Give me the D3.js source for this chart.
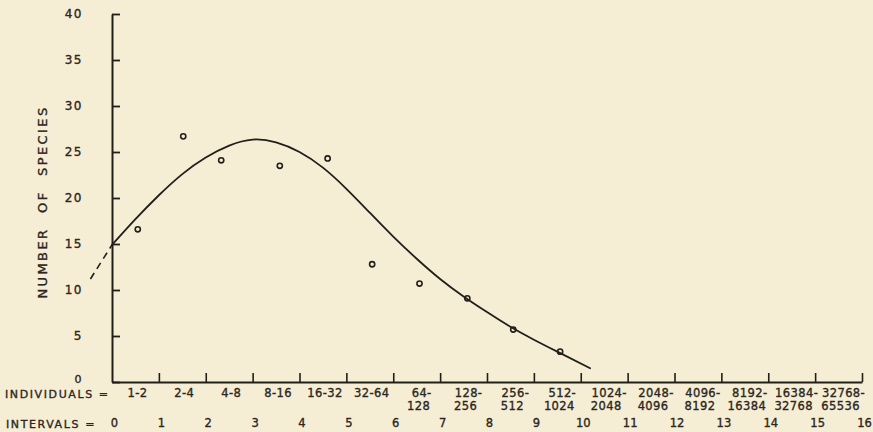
<!DOCTYPE html>
<html>
<head>
<meta charset="utf-8">
<script src="https://cdn.jsdelivr.net/npm/d3@7"></script>
<style>
    html, body { margin: 0; padding: 0; background: #f6eed4; }
    svg { display: block; }
    text { font-family: "DejaVu Sans", sans-serif; fill: #2a2622; stroke: #2a2622; stroke-width: 0.35px; }
</style>
</head>
<body>
<svg width="873" height="432"></svg>
<script>
// observed points: octave position (interval) and number of species
var pointIntervals = [0.55, 1.52, 2.33, 3.58, 4.6, 5.55, 6.56, 7.58, 8.56, 9.56];
var pointSpecies = [16.6, 26.7, 24.1, 23.5, 24.3, 12.8, 10.7, 9.1, 5.7, 3.3];

// fitted curve
var curveIntervals = [0, 0.5, 1, 1.5, 2, 2.5, 3, 3.5, 4, 4.5, 5, 5.5, 6, 6.5, 7, 7.5, 8, 8.5, 9, 9.5, 10.2];
var curveSpecies = [14.9, 17.7, 20.3, 22.6, 24.4, 25.7, 26.35, 26.05, 25.0, 23.3, 21.0, 18.4, 15.8, 13.4, 11.2, 9.3, 7.6, 6.0, 4.6, 3.3, 1.5];

// dashed extension left of the axis
var dashIntervals = [-0.46, 0];
var dashSpecies = [11.2, 14.9];

var yTicks = [0, 5, 10, 15, 20, 25, 30, 35, 40];
var intervalTicks = d3.range(0, 17);
var individualLabels = [
    ["1-2"], ["2-4"], ["4-8"], ["8-16"], ["16-32"], ["32-64"],
    ["64-", "128"], ["128-", "256"], ["256-", "512"], ["512-", "1024"],
    ["1024-", "2048"], ["2048-", "4096"], ["4096-", "8192"],
    ["8192-", "16384"], ["16384-", "32768"], ["32768-", "65536"]
];

var ink = "#221e1a";
var svg = d3.select("svg");

var x = d3.scaleLinear().domain([0, 16]).range([112, 862]);
var y = d3.scaleLinear().domain([0, 40]).range([382, 14]);

// y axis, ticks pointing inward
var yAxis = svg.append("g")
    .attr("transform", "translate(" + x(0) + ",0)")
    .call(d3.axisLeft(y).tickValues(yTicks).tickSizeInner(-8).tickSizeOuter(0).tickPadding(29));
yAxis.select(".domain").attr("stroke", ink).attr("stroke-width", 2);
yAxis.selectAll(".tick line").attr("stroke", ink).attr("stroke-width", 1.8);
yAxis.selectAll(".tick text")
    .style("font-size", "12px")
    .style("letter-spacing", "1.5px");
// the zero sits just above the INDIVIDUALS row
yAxis.selectAll(".tick text")
    .filter(function (d) { return d === 0; })
    .attr("dy", "0.05em")
    .style("font-size", "11px");

// x axis, ticks pointing up, interval numbers underneath
var xAxis = svg.append("g")
    .attr("transform", "translate(0," + y(0) + ")")
    .call(d3.axisBottom(x).tickValues(intervalTicks).tickSizeInner(-9).tickSizeOuter(0).tickPadding(37)
        .tickFormat(d3.format("d")));
xAxis.select(".domain").attr("stroke", ink).attr("stroke-width", 2);
xAxis.selectAll(".tick line").attr("stroke", ink).attr("stroke-width", 1.6)
    .filter(function (d) { return d === 0; }).remove();
xAxis.selectAll(".tick text")
    .style("font-size", "11.5px")
    .attr("dx", 2);

// individuals per octave
var ind = svg.append("g")
    .selectAll("text")
    .data(individualLabels)
    .enter()
    .append("text")
    .attr("text-anchor", "middle")
    .style("font-size", "11.5px")
    .style("letter-spacing", "0.4px");
ind.each(function (lines, i) {
    var t = d3.select(this);
    lines.forEach(function (s, k) {
        var dash = s.slice(-1) === "-" && k === 0 && lines.length > 1;
        t.append("tspan")
            .attr("x", x(i + 0.5) + (dash ? 5 : 2))
            .attr("y", 397 + k * 12.5)
            .text(s);
    });
});

svg.append("text")
    .attr("x", 5).attr("y", 398)
    .style("font-size", "11px")
    .style("letter-spacing", "1.6px")
    .text("INDIVIDUALS =");

svg.append("text")
    .attr("x", 6).attr("y", 427.5)
    .style("font-size", "11px")
    .style("letter-spacing", "1.6px")
    .text("INTERVALS =");

svg.append("text")
    .attr("transform", "translate(47," + 202 + ") rotate(-90)")
    .attr("text-anchor", "middle")
    .style("font-size", "13px")
    .style("letter-spacing", "2.4px")
    .style("word-spacing", "8px")
    .text("NUMBER OF SPECIES");

// curve
var line = d3.line()
    .x(function (d) { return x(d[0]); })
    .y(function (d) { return y(d[1]); })
    .curve(d3.curveNatural);

svg.append("path")
    .datum(d3.zip(curveIntervals, curveSpecies))
    .attr("fill", "none")
    .attr("stroke", ink)
    .attr("stroke-width", 1.8)
    .attr("stroke-linecap", "round")
    .attr("d", line);

svg.append("path")
    .datum(d3.zip(dashIntervals, dashSpecies))
    .attr("fill", "none")
    .attr("stroke", ink)
    .attr("stroke-width", 1.6)
    .attr("stroke-dasharray", "7,5")
    .attr("d", d3.line().x(function (d) { return x(d[0]); }).y(function (d) { return y(d[1]); }));

// observed points
svg.append("g")
    .selectAll("circle")
    .data(d3.zip(pointIntervals, pointSpecies))
    .enter()
    .append("circle")
    .attr("cx", function (d) { return x(d[0]); })
    .attr("cy", function (d) { return y(d[1]); })
    .attr("r", 2.6)
    .attr("fill", "none")
    .attr("stroke", ink)
    .attr("stroke-width", 1.6);
</script>
</body>
</html>
